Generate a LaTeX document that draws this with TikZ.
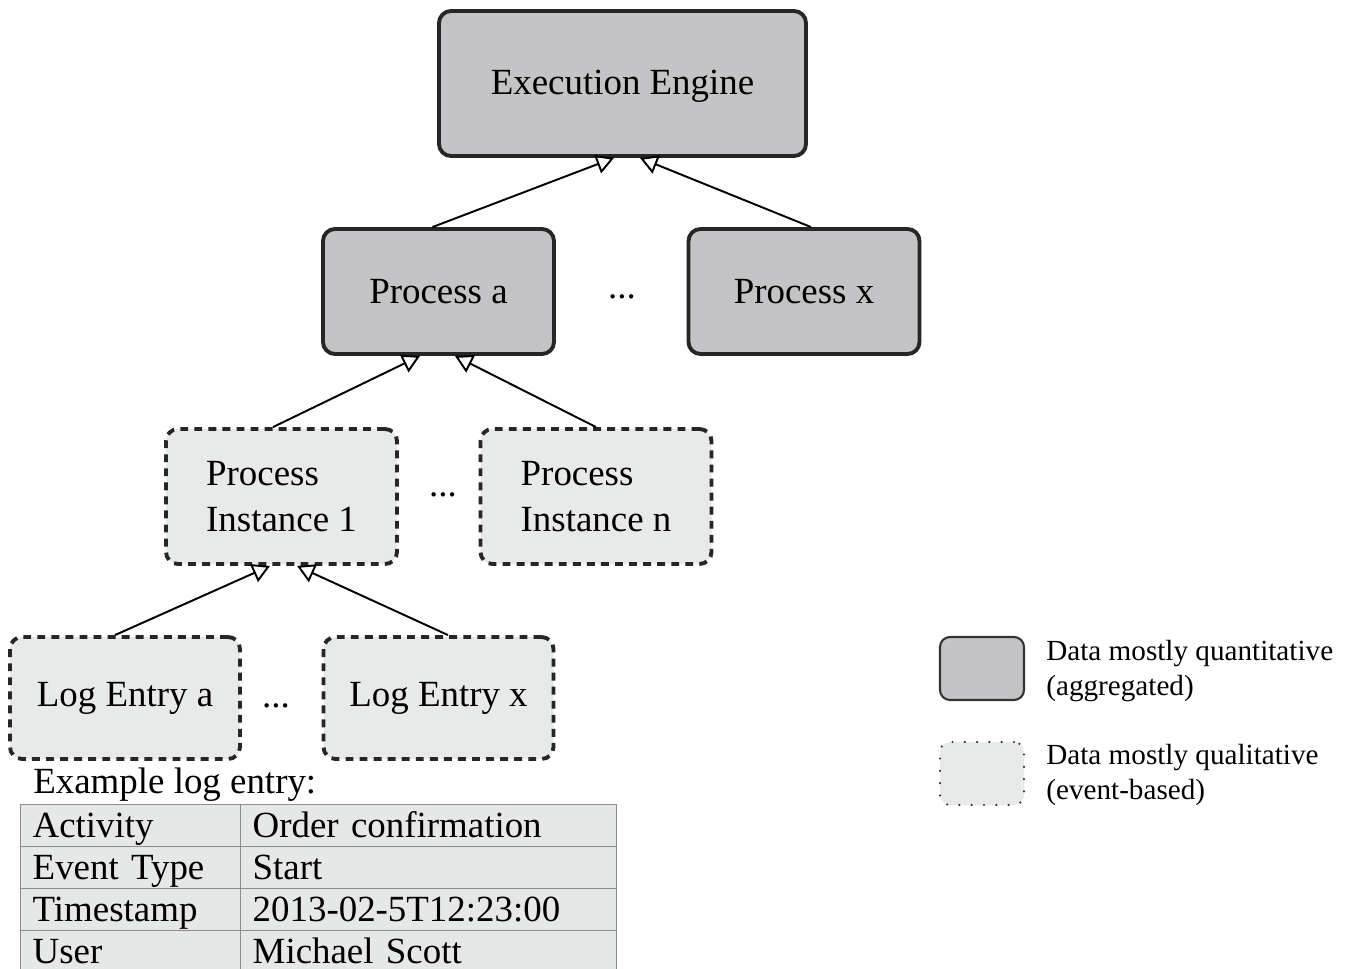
\documentclass[tikz,border=0pt]{standalone}
\usepackage{fontspec}
\setmainfont{Liberation Serif}
\usetikzlibrary{arrows.meta}

\definecolor{aggrfill}{HTML}{C4C4C6}
\definecolor{eventfill}{HTML}{E8E9E9}
\definecolor{tablefill}{HTML}{E6E7E7}
\definecolor{tableline}{HTML}{8C8C8C}

\tikzset{
  bigfont/.style={font=\fontsize{21}{26}\selectfont},
  aggr/.style={draw=black!85, fill=aggrfill, line width=2.2pt, rounded corners=0.24cm, bigfont},
  event/.style={draw=black!85, fill=eventfill, line width=2.2pt, dash pattern=on 4.5pt off 3.5pt,
    rounded corners=0.24cm, bigfont, align=left},
  link/.style={line width=1.1pt, -{Triangle[open, length=10pt, width=11pt]}},
  cell/.style={draw=tableline, fill=tablefill, line width=0.8pt, anchor=north west, align=left,
    minimum height=0.84cm, inner xsep=0.24cm, inner ysep=0pt, text height=16.5pt, text depth=3pt, bigfont},
  legendtext/.style={anchor=west, align=left, inner sep=0pt, font=\fontsize{16.6}{20.4}\selectfont}
}

\begin{document}
\begin{tikzpicture}
\useasboundingbox (0,0) rectangle (26.96,19.36);

% hierarchy
\node[aggr, minimum width=7.34cm, minimum height=2.9cm, text height=17pt] (engine) at (12.45,17.69) {Execution Engine};
\node[aggr, minimum width=4.62cm, minimum height=2.5cm] (proca) at (8.77,13.53) {Process a};
\node[aggr, minimum width=4.62cm, minimum height=2.5cm] (procx) at (16.08,13.53) {Process x};
\node[bigfont] (dotsproc) at (12.44,13.42) {...};

\node[event, minimum width=4.62cm, minimum height=2.7cm] (inst1) at (5.63,9.43) {Process\\Instance 1};
\node[event, minimum width=4.62cm, minimum height=2.7cm] (instn) at (11.92,9.43) {Process\\Instance n};
\node[bigfont] (dotsinst) at (8.86,9.46) {...};

\node[event, minimum width=4.6cm, minimum height=2.44cm] (loga) at (2.5,5.4) {Log Entry a};
\node[event, minimum width=4.6cm, minimum height=2.44cm] (logx) at (8.77,5.4) {Log Entry x};
\node[bigfont] (dotslog) at (5.52,5.24) {...};

\draw[link] ([xshift=-0.12cm]proca.north) -- ([xshift=-0.17cm]engine.south);
\draw[link] ([xshift=0.14cm]procx.north) -- ([xshift=0.35cm]engine.south);
\draw[link] ([xshift=-0.17cm]inst1.north) -- ([xshift=-0.37cm]proca.south);
\draw[link] (instn.north) -- ([xshift=0.33cm]proca.south);
\draw[link] ([xshift=-0.2cm]loga.north) -- ([xshift=-0.23cm]inst1.south);
\draw[link] ([xshift=0.19cm]logx.north) -- ([xshift=0.31cm]inst1.south);

% example log entry
\node[bigfont, anchor=base west, inner sep=0pt] (example) at (0.66,3.49) {Example log entry:};
\foreach \key/\val [count=\r] in {Activity/Order confirmation, Event Type/Start,
    Timestamp/2013-02-5T12:23:00, User/Michael Scott} {
  \node[cell, text width=3.92cm] (key\r) at (0.4,{3.28-0.84*(\r-1)}) {\key};
  \node[cell, text width=7.04cm] (val\r) at (4.8,{3.28-0.84*(\r-1)}) {\val};
}

% legend
\node[draw=black!80, fill=aggrfill, line width=1.2pt, rounded corners=0.2cm,
  minimum width=1.68cm, minimum height=1.26cm] (keyaggr) at (19.64,5.99) {};
\node[legendtext] (textaggr) at (20.92,5.94) {Data mostly quantitative\\(aggregated)};
\node[draw=black!80, fill=eventfill, line width=1.4pt, line cap=round, dash pattern=on 0pt off 7pt,
  rounded corners=0.2cm, minimum width=1.68cm, minimum height=1.26cm] (keyevent) at (19.64,3.89) {};
\node[legendtext] (textevent) at (20.92,3.86) {Data mostly qualitative\\(event-based)};
\end{tikzpicture}
\end{document}
